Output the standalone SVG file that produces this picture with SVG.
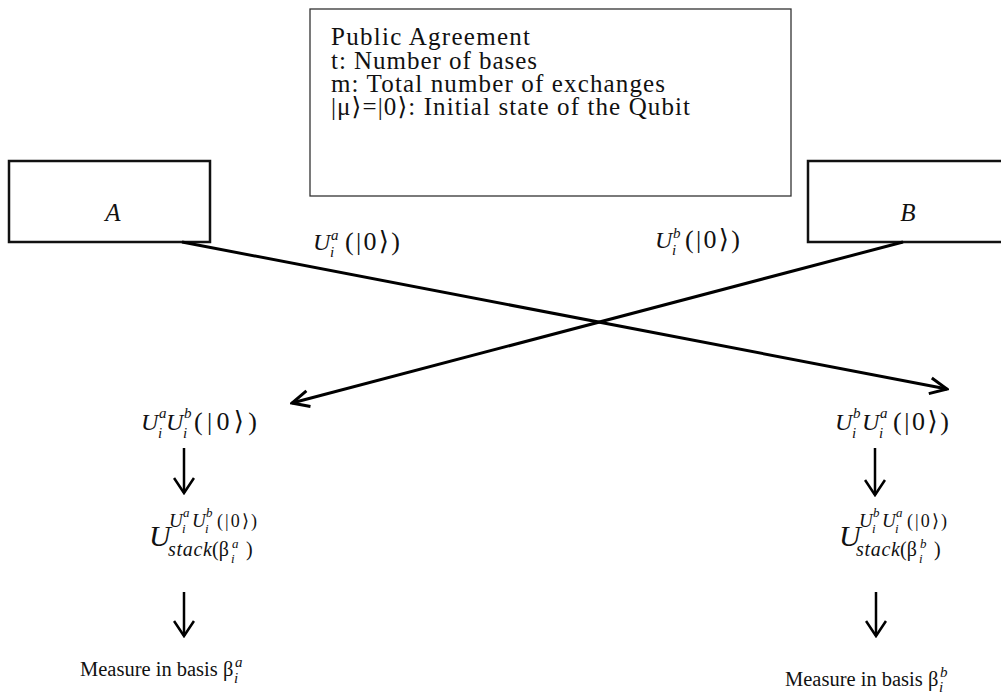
<svg xmlns="http://www.w3.org/2000/svg" width="1001" height="696" viewBox="0 0 1001 696">
<style>
text{font-family:"Liberation Serif","DejaVu Serif",serif;fill:#111}
.it{font-style:italic}
.pa{font-size:25px}
.m{font-size:24px}
.p{font-size:26px}
.s{font-size:15px}
.ss{font-size:13px}
.box{fill:#fff;stroke:#111;stroke-width:2.5}
.thin{fill:#fff;stroke:#333;stroke-width:1.3}
.ln{stroke:#000;stroke-width:3;fill:none}
.vln{stroke:#000;stroke-width:2.5;fill:none}
</style>
<defs>
<marker id="ah" viewBox="0 0 22 22" refX="20" refY="11" markerWidth="22" markerHeight="22" markerUnits="userSpaceOnUse" orient="auto">
<path d="M3,3 L20,11 L3,19" fill="none" stroke="#000" stroke-width="3"/>
</marker>
<marker id="ahv" viewBox="0 0 20 22" refX="18" refY="11" markerWidth="20" markerHeight="22" markerUnits="userSpaceOnUse" orient="auto">
<path d="M3,1 L18,11 L3,21" fill="none" stroke="#000" stroke-width="2.6"/>
</marker>
</defs>
<rect width="1001" height="696" fill="#fff"/>

<g id="public-agreement">
<rect class="thin" x="310" y="9" width="481" height="187"/>
<text class="pa" x="331" y="45" textLength="199" lengthAdjust="spacing">Public Agreement</text>
<text class="pa" x="331" y="69" textLength="206" lengthAdjust="spacing">t: Number of bases</text>
<text class="pa" x="331" y="92" textLength="334" lengthAdjust="spacing">m: Total number of exchanges</text>
<text class="pa" x="331" y="115" textLength="359" lengthAdjust="spacing">|μ⟩=|0⟩: Initial state of the Qubit</text>
</g>

<g id="node-A">
<rect class="box" x="9" y="161" width="201" height="81"/>
<text class="it" x="113" y="221" font-size="25" text-anchor="middle">A</text>
</g>

<g id="node-B">
<rect class="box" x="808" y="161" width="210" height="81"/>
<text class="it" x="908" y="221" font-size="25" text-anchor="middle">B</text>
</g>

<g id="connectors">
<line class="ln" x1="182" y1="242" x2="947" y2="389" marker-end="url(#ah)"/>
<line class="ln" x1="903" y1="242" x2="292" y2="403" marker-end="url(#ah)"/>
<line class="vln" x1="184" y1="448" x2="184" y2="493" marker-end="url(#ahv)"/>
<line class="vln" x1="184" y1="592" x2="184" y2="636" marker-end="url(#ahv)"/>
<line class="vln" x1="875" y1="448" x2="875" y2="495" marker-end="url(#ahv)"/>
<line class="vln" x1="876" y1="592" x2="876" y2="636" marker-end="url(#ahv)"/>
</g>

<g id="label-Ua">
<text class="it m" x="313" y="250">U</text>
<text class="it s" x="331" y="240">a</text>
<text class="it s" x="330" y="257">i</text>
<text class="p" x="345" y="250" textLength="55" lengthAdjust="spacing">(|0⟩)</text>
</g>

<g id="label-Ub">
<text class="it m" x="655" y="248">U</text>
<text class="it s" x="673" y="238">b</text>
<text class="it s" x="672" y="255">i</text>
<text class="p" x="685" y="248" textLength="55" lengthAdjust="spacing">(|0⟩)</text>
</g>

<g id="left-state">
<text class="it m" x="141" y="430">U</text>
<text class="it s" x="159" y="418">a</text>
<text class="it s" x="158" y="438">i</text>
<text class="it m" x="166" y="430">U</text>
<text class="it s" x="184" y="418">b</text>
<text class="it s" x="183" y="438">i</text>
<text class="p" x="194" y="430" textLength="63" lengthAdjust="spacing">(|0⟩)</text>
</g>

<g id="right-state">
<text class="it m" x="835" y="430">U</text>
<text class="it s" x="853" y="418">b</text>
<text class="it s" x="852" y="438">i</text>
<text class="it m" x="862" y="430">U</text>
<text class="it s" x="880" y="418">a</text>
<text class="it s" x="879" y="438">i</text>
<text class="p" x="893" y="430" textLength="56" lengthAdjust="spacing">(|0⟩)</text>
</g>

<g id="left-stack">
<text class="it" x="149" y="546" font-size="30">U</text>
<text class="it" x="169" y="527" font-size="19">U</text>
<text class="it ss" x="183" y="517">a</text>
<text class="it ss" x="182" y="533">i</text>
<text class="it" x="192" y="527" font-size="19">U</text>
<text class="it ss" x="206" y="517">b</text>
<text class="it ss" x="205" y="533">i</text>
<text x="217" y="527" font-size="18" textLength="40" lengthAdjust="spacing">(|0⟩)</text>
<text class="it" x="168" y="556" font-size="20" textLength="44" lengthAdjust="spacing">stack</text>
<text x="212" y="556" font-size="20">(β</text>
<text class="it ss" x="232" y="548">a</text>
<text class="it ss" x="231" y="563">i</text>
<text x="246" y="556" font-size="20">)</text>
</g>

<g id="right-stack">
<text class="it" x="839" y="546" font-size="30">U</text>
<text class="it" x="859" y="527" font-size="19">U</text>
<text class="it ss" x="873" y="517">b</text>
<text class="it ss" x="872" y="533">i</text>
<text class="it" x="882" y="527" font-size="19">U</text>
<text class="it ss" x="896" y="517">a</text>
<text class="it ss" x="895" y="533">i</text>
<text x="907" y="527" font-size="18" textLength="40" lengthAdjust="spacing">(|0⟩)</text>
<text class="it" x="856" y="556" font-size="20" textLength="44" lengthAdjust="spacing">stack</text>
<text x="900" y="556" font-size="20">(β</text>
<text class="it ss" x="920" y="548">b</text>
<text class="it ss" x="919" y="563">i</text>
<text x="934" y="556" font-size="20">)</text>
</g>

<g id="left-measure">
<text x="80" y="676" font-size="20.5">Measure in basis β</text>
<text class="it s" x="235" y="667">a</text>
<text class="it s" x="234" y="683">i</text>
</g>

<g id="right-measure">
<text x="785" y="686" font-size="20.5">Measure in basis β</text>
<text class="it s" x="940" y="677">b</text>
<text class="it s" x="939" y="692">i</text>
</g>
</svg>
